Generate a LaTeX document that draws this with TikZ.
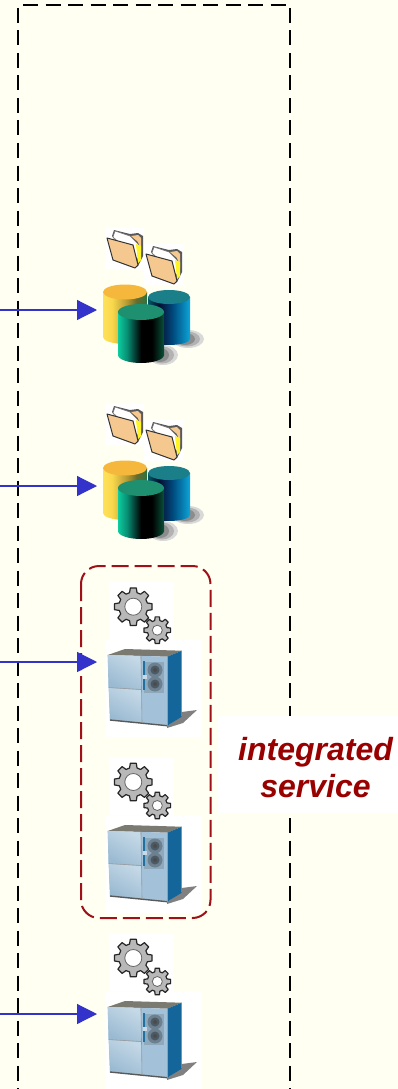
\documentclass[tikz,border=0pt]{standalone}
\usepackage{fontspec}
\setmainfont{Liberation Sans}
\usetikzlibrary{arrows.meta,shadings}
\definecolor{paper}{HTML}{FFFFF2}
\definecolor{darkred}{HTML}{990000}
\definecolor{dashred}{HTML}{A01018}
\definecolor{arrowblue}{HTML}{3333CC}
\definecolor{ytop}{HTML}{F5B83C}
\definecolor{btop}{HTML}{1A7F88}
\definecolor{gtop}{HTML}{1E9070}
\definecolor{folderfill}{HTML}{F5C890}
\definecolor{cabside}{HTML}{14669A}
\definecolor{cabdoor}{HTML}{A3C1D8}
\definecolor{cabdoorlight}{HTML}{C4D8E6}
\definecolor{cabdoordark}{HTML}{9ABAD2}
\definecolor{cabtop}{HTML}{7A7A70}
\definecolor{cabpanel}{HTML}{8FA9BC}
\definecolor{cabknob}{HTML}{6C8090}
\definecolor{cabhandle}{HTML}{2070A0}
\pgfdeclarehorizontalshading{yellowcyl}{100bp}{
  rgb(0bp)=(1,.88,.35); rgb(25bp)=(1,.88,.35); rgb(35bp)=(.98,.85,.3); rgb(52bp)=(.72,.6,.2); rgb(63bp)=(.4,.42,.18); rgb(75bp)=(.18,.45,.25); rgb(100bp)=(.18,.45,.25)}
\pgfdeclarehorizontalshading{bluecyl}{100bp}{
  rgb(0bp)=(0,.35,.4); rgb(25bp)=(0,.35,.4); rgb(38bp)=(.02,.05,.2); rgb(55bp)=(0,.3,.5); rgb(75bp)=(.05,.65,.85); rgb(100bp)=(.05,.65,.85)}
\pgfdeclarehorizontalshading{greencyl}{100bp}{
  rgb(0bp)=(.05,.8,.62); rgb(25bp)=(.05,.8,.62); rgb(35bp)=(.03,.55,.45); rgb(50bp)=(0,0,0); rgb(62bp)=(0,0,0); rgb(75bp)=(.03,.32,.22); rgb(100bp)=(.03,.32,.22)}
\tikzset{
  x=1pt,y=-1pt,
  outerbox/.style={draw=black,line width=1.5pt,dash pattern=on 15pt off 7.5pt},
  groupbox/.style={draw=dashred,line width=2pt,rounded corners=18pt,dash pattern=on 17pt off 6pt},
  feed/.style={draw=arrowblue,line width=1.2pt,-{Triangle[length=20pt,width=20pt,fill=arrowblue]}},
  iconbg/.style={fill=white,draw=none},
  captionbox/.style={fill=white,draw=none,minimum width=180pt,minimum height=97pt,inner sep=0pt},
  captiontext/.style={inner sep=0pt,align=center,font=\fontsize{32}{37}\selectfont\bfseries\itshape,text=darkred},
  doorshade/.style={shading=axis,top color=cabdoorlight,bottom color=cabdoordark,shading angle=-30},
  pics/folder/.style={code={
    \fill[iconbg] (0,0) rectangle (39,41);
    \fill[black!65] (30,40) -- (33,38) -- (38,28) -- (38,8) -- (33,5) -- (25,6) -- (9,2) -- (7,8) -- cycle;
    \fill[folderfill] (26,8) -- (33,7) -- (36,10) -- (36,24) -- (33,14) -- cycle;
    \fill[white,draw=black!55,line width=.5pt] (8,9) -- (10,3) -- (25,8) -- (33,16) -- (34,32) -- (20,20) -- cycle;
    \fill[yellow!85!white] (31,16) -- (36,18) -- (36,32) -- (33,35) -- cycle;
    \fill[folderfill,draw=black!80,line width=1pt,line join=round] (2,10) -- (28,17) -- (33,37) -- (30,40) -- (8,32) -- cycle;
  }},
  pics/database/.style={code={
    \fill[black!15] (91,30) ellipse (16 and 9);
    \fill[black!30] (90,30) ellipse (13 and 7.5);
    \fill[black!45] (88,30) ellipse (10 and 6);
    \fill[black!15] (66,46) ellipse (15 and 10);
    \fill[black!30] (65,46) ellipse (12 and 8.5);
    \fill[black!45] (63,46) ellipse (9 and 7);
    \shade[shading=yellowcyl]
      (6,-17) -- (6,28) arc[start angle=180,end angle=0,x radius=22,y radius=7] -- (50,-17) -- cycle;
    \fill[ytop] (28,-17) ellipse (22 and 7.5);
    \shade[shading=bluecyl]
      (51,-12) -- (51,30) arc[start angle=180,end angle=0,x radius=21,y radius=6] -- (93,-12) -- cycle;
    \fill[btop] (72,-12) ellipse (21 and 7);
    \shade[shading=greencyl]
      (21,3) -- (21,46) arc[start angle=180,end angle=0,x radius=23,y radius=8] -- (67,3) -- cycle;
    \fill[gtop] (44,3) ellipse (23 and 8);
  }},
  pics/gear/.style={code={
    \fill[iconbg] (-24,-25) rectangle (41,33);
    \foreach \cx/\cy/\ro/\ri/\rh in {0/0/19/14.5/8.5,24/23.5/13.5/10/5}{
      \begin{scope}[shift={(\cx,\cy)}]
      \fill[black!28,draw=black!85,line width=1.2pt,line join=round]
        (-9:\ro) \foreach \a in {0,45,...,315}{
          -- (\a-9:\ro) -- (\a+9:\ro) -- (\a+15:\ri) -- (\a+30:\ri)
        } -- cycle;
      \fill[white,draw=black!60,line width=.8pt] (0,0) circle[radius=\rh];
      \end{scope}
    }
  }},
  pics/cabinet/.style={code={
    \fill[iconbg] (0,0) rectangle (97,97);
    \fill[black!50] (62,86) -- (76.7,76) -- (76.7,72) -- (92,70) -- (78,83) -- (62,88) -- cycle;
    \fill[cabtop] (2.7,15) -- (20,9) -- (76.7,10.7) -- (62.3,16.7) -- cycle;
    \fill[cabside] (62.3,16.7) -- (76.7,10.7) -- (76.7,76.7) -- (62.3,85.7) -- cycle;
    \fill[cabdoor] (2.7,15) -- (62.3,16.7) -- (62.3,85.7) -- (5,80) -- cycle;
    \shade[doorshade] (2.7,15) -- (35.7,16) -- (35.9,49) -- (3.5,47) -- cycle;
    \shade[doorshade] (3.6,48) -- (36,50) -- (37,82) -- (5,79.5) -- cycle;
    \draw[black!65,line width=1.4pt] (5,80) -- (62.3,85.7);
    \draw[black!40,line width=.6pt] (36,16) -- (37,83);
    \draw[black!40,line width=.6pt] (3.5,47.5) -- (36,49.5);
    \fill[cabpanel] (39,22) rectangle (59,53);
    \foreach \yy in {30,44}{
      \fill[cabknob] (50,\yy) circle[radius=7.5];
      \fill[cabknob!70!black] (50,\yy) circle[radius=4.5];
      \fill[black!70] (50,\yy) circle[radius=2];
    }
    \fill[cabhandle] (37.7,21) rectangle (40,50);
    \fill[cabdoor!60!white] (38,35) rectangle (42,39);
  }},
}
\begin{document}
\begin{tikzpicture}
  \useasboundingbox (0,0) rectangle (398,1089);
  \fill[paper] (0,0) rectangle (398,1089);

  \draw[outerbox] (18,8) -- (18,1100);
  \draw[outerbox] (23,5) -- (290,5) -- (290,1100);

  \coordinate (d1tip) at (97,310);
  \coordinate (d2tip) at (97,486);
  \coordinate (s1tip) at (97,662);
  \coordinate (s3tip) at (97,1014);
  \coordinate (in1) at (0,310);
  \coordinate (in2) at (0,486);
  \coordinate (in3) at (0,662);
  \coordinate (in4) at (0,1014);

  \pic at (105,228) {folder};
  \pic at (144,244) {folder};
  \pic at (97,309) {database};
  \pic at (105,404) {folder};
  \pic at (144,420) {folder};
  \pic at (97,485) {database};

  \pic at (105,640) {cabinet};
  \pic at (133.3,606.7) {gear};
  \pic at (105,816) {cabinet};
  \pic at (133.3,782) {gear};
  \pic at (105,992) {cabinet};
  \pic at (133.3,958) {gear};

  \draw[groupbox] (81,566) rectangle (210.5,918);

  \node[captionbox] (capbg) at (308,764.5) {};
  \node[captiontext] (caption) at (315.5,767.5) {integrated\\service};

  \draw[feed] (in1) -- (d1tip);
  \draw[feed] (in2) -- (d2tip);
  \draw[feed] (in3) -- (s1tip);
  \draw[feed] (in4) -- (s3tip);
\end{tikzpicture}
\end{document}
